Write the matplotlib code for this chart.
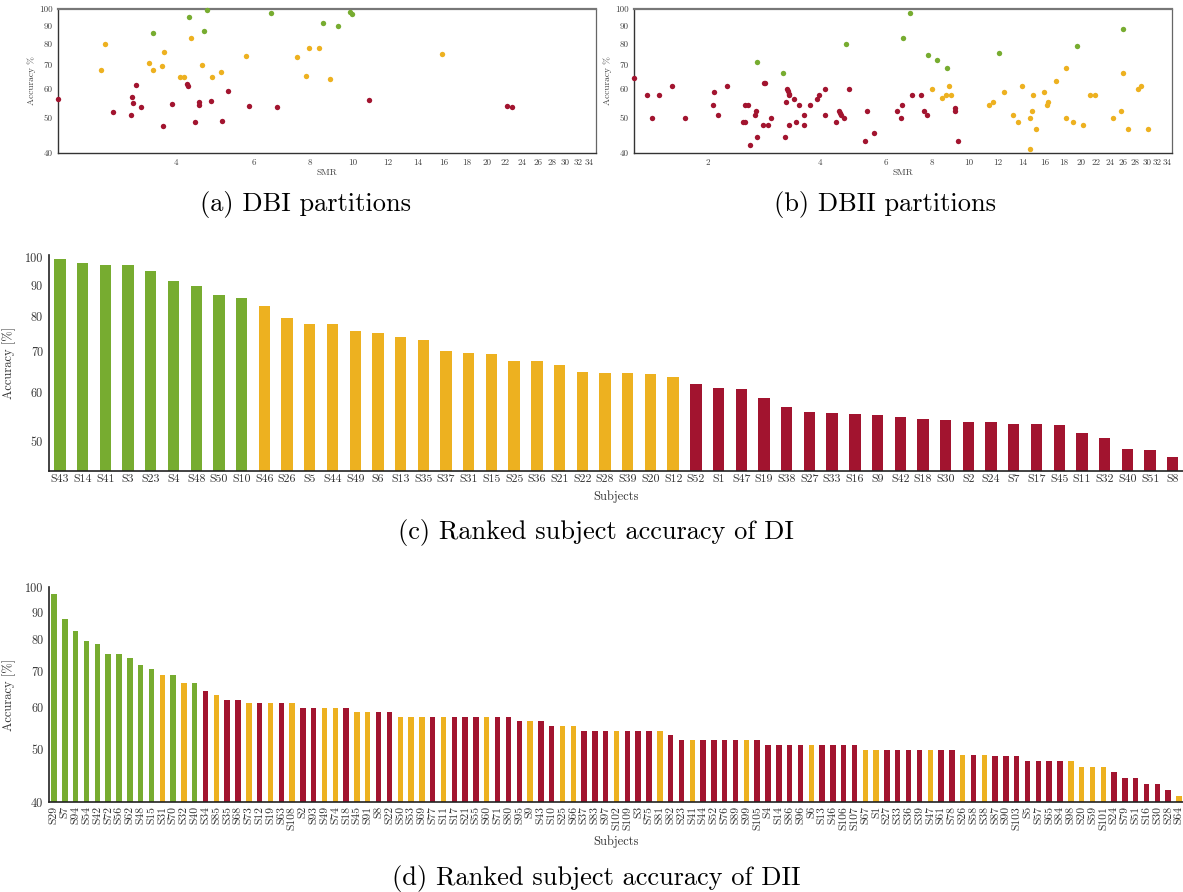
import matplotlib
matplotlib.use('Agg')
import matplotlib.pyplot as plt
from matplotlib.ticker import FixedLocator, FixedFormatter, NullLocator

plt.rcParams['font.family'] = ['cmr10', 'DejaVu Serif']
plt.rcParams['mathtext.fontset'] = 'cm'
plt.rcParams['axes.unicode_minus'] = False
plt.rcParams['axes.formatter.use_mathtext'] = True

GREEN = '#77AC30'
YELLOW = '#EDB120'
RED = '#A2142F'
COLORS = {'g': GREEN, 'y': YELLOW, 'r': RED}

# ---------------- Panel (a) DBI partitions ----------------
a_green_smr = [3.55, 4.28, 4.70, 4.63, 6.55, 8.59, 9.28, 9.84, 9.93]
a_green_acc = [85.8, 95.0, 99.4, 86.9, 97.3, 91.5, 89.8, 97.9, 97.1]
a_yellow_smr = [2.77, 2.72, 3.49, 3.56, 3.77, 3.73, 4.10, 4.17, 4.32, 4.58,
                4.83, 5.05, 5.75, 7.50, 7.99, 7.85, 8.40, 8.87, 15.85]
a_yellow_acc = [79.8, 68.0, 70.8, 68.0, 75.9, 69.7, 64.7, 64.8, 83.3, 70.0,
                65.0, 67.0, 74.3, 73.5, 78.0, 65.3, 78.0, 63.9, 75.2]
a_red_smr = [2.18, 2.89, 3.17, 3.19, 3.21, 3.26, 3.35, 3.75, 3.93, 4.25, 4.26,
             4.42, 4.51, 4.52, 4.79, 5.09, 5.24, 5.85, 6.76, 10.86, 22.2, 22.8]
a_red_acc = [56.3, 52.0, 50.9, 57.1, 55.0, 61.5, 53.7, 47.5, 54.7, 62.2, 61.2,
             48.6, 54.4, 55.3, 55.7, 48.9, 59.2, 53.9, 53.5, 55.9, 53.9, 53.7]

# ---------------- Panel (b) DBII partitions ----------------
b_green_smr = [2.71, 3.19, 4.69, 6.70, 6.97, 7.80, 8.24, 8.76, 12.07, 19.5, 25.9]
b_green_acc = [71.2, 66.7, 80.0, 83.3, 97.7, 74.5, 72.3, 68.8, 75.4, 78.8, 87.9]
b_yellow_smr = [8.00, 8.51, 8.73, 8.85, 8.97, 11.33, 11.6, 12.43, 13.15, 13.56,
                13.9, 14.59, 14.59, 14.82, 14.9, 15.2, 15.93, 16.2, 16.33, 17.11,
                18.2, 18.3, 19.0, 20.25, 21.2, 21.75, 24.4, 25.6, 25.9, 26.7,
                28.5, 29.0, 30.3]
b_yellow_acc = [60.0, 56.6, 57.7, 61.1, 57.7, 54.4, 55.5, 58.8, 51.0, 48.8,
                61.1, 41.0, 50.0, 52.2, 57.7, 46.6, 58.8, 54.4, 55.5, 63.4,
                50.0, 68.8, 48.8, 47.7, 57.7, 57.7, 50.0, 52.2, 66.7, 46.6,
                60.0, 61.1, 46.6]
b_red_smr = [1.275, 1.381, 1.424, 1.481, 1.605, 1.746, 2.075, 2.087, 2.14, 2.258,
             2.497, 2.52, 2.523, 2.575, 2.607, 2.683, 2.706, 2.71, 2.819, 2.843,
             2.86, 2.915, 2.962, 3.236, 3.255, 3.27, 3.28, 3.30, 3.31, 3.315,
             3.413, 3.46, 3.52, 3.63, 3.63, 3.77, 3.92, 3.97, 4.13, 4.14,
             4.43, 4.51, 4.53, 4.55, 4.63, 4.80, 5.29, 5.34, 5.58,
             6.45, 6.58, 6.62, 7.05, 7.46, 7.60, 7.75, 9.18, 9.21, 9.37]
b_red_acc = [64.4, 57.7, 50.0, 57.7, 61.1, 50.0, 54.4, 58.8, 51.0, 61.1,
             48.8, 48.8, 54.4, 54.4, 42.1, 51.0, 52.2, 44.4, 47.7, 62.3,
             62.3, 47.7, 50.0, 44.4, 55.5, 60.0, 59.2, 58.4, 57.7, 47.7,
             56.5, 48.8, 54.4, 51.0, 47.7, 54.4, 56.5, 57.7, 60.0, 51.0,
             48.8, 52.2, 51.5, 51.0, 50.0, 60.0, 43.3, 52.2, 45.5,
             52.2, 50.0, 54.4, 57.7, 57.7, 52.2, 51.0, 53.4, 52.2, 43.3]

smr_ticks = [2, 4, 6, 8, 10, 12, 14, 16, 18, 20, 22, 24, 26, 28, 30, 32, 34]
acc_ticks_scatter = [40, 50, 60, 70, 80, 90, 100]

# ---------------- Panel (c) Ranked subject accuracy of DI ----------------
c_subjects = ['S43', 'S14', 'S41', 'S3', 'S23', 'S4', 'S48', 'S50', 'S10', 'S46',
              'S26', 'S5', 'S44', 'S49', 'S6', 'S13', 'S35', 'S37', 'S31', 'S15',
              'S25', 'S36', 'S21', 'S22', 'S28', 'S39', 'S20', 'S12', 'S52', 'S1',
              'S47', 'S19', 'S38', 'S27', 'S33', 'S16', 'S9', 'S42', 'S18', 'S30',
              'S2', 'S24', 'S7', 'S17', 'S45', 'S11', 'S32', 'S40', 'S51', 'S8']
c_accuracy = [99.2, 97.9, 97.1, 96.9, 94.8, 91.3, 89.6, 86.7, 85.6, 83.1,
              79.4, 77.7, 77.7, 75.6, 75.0, 73.9, 73.2, 70.3, 69.6, 69.3,
              67.7, 67.6, 66.6, 64.9, 64.6, 64.6, 64.4, 63.7, 61.9, 61.1,
              60.9, 58.9, 56.8, 55.8, 55.6, 55.4, 55.1, 54.7, 54.4, 54.1,
              53.7, 53.7, 53.4, 53.4, 53.1, 51.6, 50.6, 48.6, 48.3, 47.1]
c_group = list('ggggggggg' + 'yyyyyyyyyyyyyyyyyyy' + 'rrrrrrrrrrrrrrrrrrrrrr')
c_ticks = [50, 60, 70, 80, 90, 100]

# ---------------- Panel (d) Ranked subject accuracy of DII ----------------
d_subjects = ['S29', 'S7', 'S94', 'S54', 'S42', 'S72', 'S56', 'S62', 'S48', 'S15',
              'S31', 'S70', 'S32', 'S40', 'S34', 'S85', 'S35', 'S68', 'S73', 'S12',
              'S19', 'S63', 'S108', 'S2', 'S93', 'S49', 'S74', 'S18', 'S45', 'S91',
              'S8', 'S22', 'S50', 'S53', 'S69', 'S77', 'S11', 'S17', 'S21', 'S55',
              'S60', 'S71', 'S80', 'S95', 'S9', 'S43', 'S10', 'S25', 'S66', 'S37',
              'S83', 'S97', 'S102', 'S109', 'S3', 'S75', 'S81', 'S82', 'S23', 'S41',
              'S44', 'S52', 'S76', 'S89', 'S99', 'S105', 'S4', 'S14', 'S86', 'S96',
              'S6', 'S13', 'S46', 'S106', 'S107', 'S67', 'S1', 'S27', 'S33', 'S36',
              'S39', 'S47', 'S61', 'S78', 'S26', 'S58', 'S38', 'S87', 'S90', 'S103',
              'S5', 'S57', 'S65', 'S84', 'S98', 'S20', 'S59', 'S101', 'S24', 'S79',
              'S51', 'S16', 'S30', 'S28', 'S64']
d_accuracy = [97.2, 87.3, 83.0, 79.6, 78.5, 75.2, 75.2, 74.1, 71.9, 70.7,
              68.8, 68.8, 66.4, 66.4, 64.2, 63.1, 62.0, 62.0, 61.0, 61.0,
              61.0, 61.0, 61.0, 59.8, 59.8, 59.8, 59.8, 59.8, 58.7, 58.7,
              58.7, 58.7, 57.6, 57.6, 57.6, 57.6, 57.6, 57.6, 57.6, 57.6,
              57.6, 57.6, 57.6, 56.5, 56.5, 56.5, 55.4, 55.4, 55.4, 54.3,
              54.3, 54.3, 54.3, 54.3, 54.3, 54.3, 54.3, 53.2, 52.1, 52.1,
              52.1, 52.1, 52.1, 52.1, 52.1, 52.1, 51.0, 51.0, 51.0, 51.0,
              51.0, 51.0, 51.0, 51.0, 51.0, 49.9, 49.9, 49.9, 49.9, 49.9,
              49.9, 49.9, 49.9, 49.9, 48.8, 48.8, 48.8, 48.7, 48.7, 48.7,
              47.6, 47.6, 47.6, 47.6, 47.6, 46.5, 46.5, 46.5, 45.4, 44.3,
              44.3, 43.2, 43.2, 42.1, 41.0]
d_group = list('gggggggggg' + 'ygyg' + 'ryrryryryrryyryyrr' +
               'yyyry' + 'rrryr' + 'rryrr' + 'yyrrr' + 'yrrry' +
               'rryrr' + 'rryrr' + 'rrryr' + 'rrryy' + 'rrrry' +
               'rryry' + 'rrrrr' + 'rryyy' + 'yrrrr' + 'rry')
d_ticks = [40, 50, 60, 70, 80, 90, 100]

W, H = 1183, 892
fig = plt.figure(figsize=(W / 100, H / 100), dpi=100)


def fx(px):
    return px / W


def fy(py):
    return 1 - py / H


def scatter_panel(rect, greens, yellows, reds, xlim):
    ax = fig.add_axes(rect)
    for (xs, ys), col in zip([reds, yellows, greens], [RED, YELLOW, GREEN]):
        ax.scatter(xs, ys, s=15, color=col, linewidths=0, zorder=3, clip_on=False)
    ax.set_xscale('log')
    ax.set_yscale('log')
    ax.set_xlim(*xlim)
    ax.set_ylim(40, 100)
    ax.xaxis.set_major_locator(FixedLocator(smr_ticks))
    ax.xaxis.set_major_formatter(FixedFormatter([str(t) for t in smr_ticks]))
    ax.xaxis.set_minor_locator(NullLocator())
    ax.yaxis.set_major_locator(FixedLocator(acc_ticks_scatter))
    ax.yaxis.set_major_formatter(FixedFormatter([str(t) for t in acc_ticks_scatter]))
    ax.yaxis.set_minor_locator(NullLocator())
    ax.tick_params(length=0, labelsize=6.5, colors='#444444', pad=4)
    ax.set_xlabel('SMR', fontsize=6.8, color='#444444', labelpad=1)
    ax.set_ylabel('Accuracy %', fontsize=6.8, color='#444444', labelpad=2)
    for s in ['left', 'bottom']:
        ax.spines[s].set_color('#333333')
        ax.spines[s].set_linewidth(1.0)
    ax.spines['top'].set_color('#777777')
    ax.spines['top'].set_linewidth(1.6)
    ax.spines['right'].set_color('#666666')
    ax.spines['right'].set_linewidth(0.9)
    return ax


ax_a = scatter_panel([fx(58.3), fy(153), fx(595.7 - 58.3), (153 - 9) / H],
                     (a_green_smr, a_green_acc), (a_yellow_smr, a_yellow_acc),
                     (a_red_smr, a_red_acc), (2.18, 35.1))
ax_b = scatter_panel([fx(634.3), fy(153), fx(1171.7 - 634.3), (153 - 9) / H],
                     (b_green_smr, b_green_acc), (b_yellow_smr, b_yellow_acc),
                     (b_red_smr, b_red_acc), (1.275, 35.0))


def bar_panel(rect, subjects, acc, groups, ticks, ylim, xlim, rot, tick_fs):
    ax = fig.add_axes(rect)
    ax.set_yscale('log')
    xs = list(range(len(subjects)))
    cols = [COLORS[g] for g in groups]
    ax.bar(xs, acc, width=0.5, color=cols, edgecolor='none', zorder=2)
    ax.set_ylim(*ylim)
    ax.set_xlim(*xlim)
    ax.set_xticks(xs)
    ax.set_xticklabels(subjects, rotation=rot, fontsize=tick_fs, color='#333333')
    ax.yaxis.set_major_locator(FixedLocator(ticks))
    ax.yaxis.set_major_formatter(FixedFormatter([str(t) for t in ticks]))
    ax.yaxis.set_minor_locator(NullLocator())
    ax.tick_params(axis='y', length=0, labelsize=8.8, colors='#333333', pad=4)
    ax.tick_params(axis='x', length=0, pad=3)
    for s in ['top', 'right']:
        ax.spines[s].set_visible(False)
    for s in ['left', 'bottom']:
        ax.spines[s].set_color('#222222')
        ax.spines[s].set_linewidth(1.2)
    ax.set_ylabel('Accuracy [%]', fontsize=9, color='#333333', labelpad=6)
    return ax


ax_c = bar_panel([fx(48.6), fy(470.7), fx(W - 48.6), (470.7 - 254.7) / H],
                 c_subjects, c_accuracy, c_group, c_ticks, (44.7, 100.9),
                 (-0.5, 49.45), 0, 8.6)
ax_c.set_xlabel('Subjects', fontsize=9, color='#333333', labelpad=4)

ax_d = bar_panel([fx(48.7), fy(802), fx(W - 48.7), (802 - 587) / H],
                 d_subjects, d_accuracy, d_group, d_ticks, (40, 100.3),
                 (-0.5, 104.37), 90, 8.4)
ax_d.set_xlabel('Subjects', fontsize=9, color='#333333', labelpad=4)

cap_fs = 19
fig.text(fx(306), fy(205), '(a) DBI partitions', ha='center', va='center', fontsize=cap_fs)
fig.text(fx(885), fy(205), '(b) DBII partitions', ha='center', va='center', fontsize=cap_fs)
fig.text(fx(596), fy(533), '(c) Ranked subject accuracy of DI', ha='center', va='center', fontsize=cap_fs)
fig.text(fx(596), fy(879), '(d) Ranked subject accuracy of DII', ha='center', va='center', fontsize=cap_fs)

fig.savefig('out.png', dpi=100)
